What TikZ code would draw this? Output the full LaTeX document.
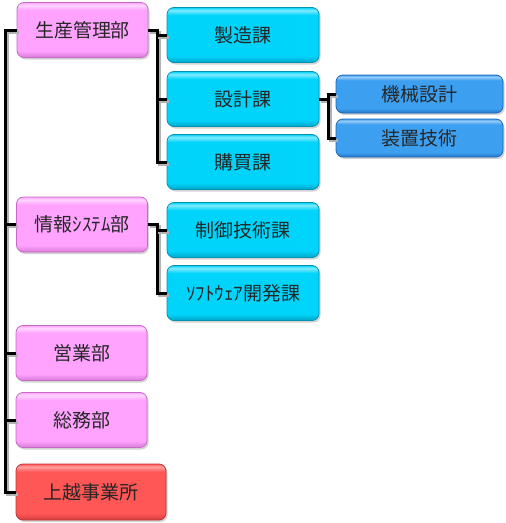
\documentclass[tikz,border=0pt]{standalone}
\usepackage{fontspec}
\newfontfamily\jp{Noto Sans CJK JP}
\usetikzlibrary{shadows}
\definecolor{pinkM}{HTML}{FFA3FF}
\definecolor{pinkL}{HTML}{FFD6FF}
\definecolor{pinkD}{HTML}{D97AD9}
\definecolor{pinkB}{HTML}{C46CC4}
\definecolor{cyanM}{HTML}{00D4FA}
\definecolor{cyanL}{HTML}{7FEAFF}
\definecolor{cyanD}{HTML}{00A6C8}
\definecolor{cyanB}{HTML}{0093B3}
\definecolor{blueM}{HTML}{3C9FF0}
\definecolor{blueL}{HTML}{9ACBFA}
\definecolor{blueD}{HTML}{2475C8}
\definecolor{blueB}{HTML}{1E68B8}
\definecolor{redM}{HTML}{FF5656}
\definecolor{redL}{HTML}{FFA0A0}
\definecolor{redD}{HTML}{D43C3C}
\definecolor{redB}{HTML}{C03434}
\pgfdeclareverticalshading{pinkshade}{100bp}{color(0bp)=(pinkD); color(25bp)=(pinkD); color(31bp)=(pinkM); color(68bp)=(pinkM); color(72.5bp)=(pinkL); color(75bp)=(pinkM); color(100bp)=(pinkM)}
\pgfdeclareverticalshading{cyanshade}{100bp}{color(0bp)=(cyanD); color(25bp)=(cyanD); color(31bp)=(cyanM); color(68bp)=(cyanM); color(72.5bp)=(cyanL); color(75bp)=(cyanM); color(100bp)=(cyanM)}
\pgfdeclareverticalshading{blueshade}{100bp}{color(0bp)=(blueD); color(25bp)=(blueD); color(31bp)=(blueM); color(68bp)=(blueM); color(72.5bp)=(blueL); color(75bp)=(blueM); color(100bp)=(blueM)}
\pgfdeclareverticalshading{redshade}{100bp}{color(0bp)=(redD); color(25bp)=(redD); color(31bp)=(redM); color(68bp)=(redM); color(72.5bp)=(redL); color(75bp)=(redM); color(100bp)=(redM)}
\tikzset{
  box/.style={rounded corners=7pt, line width=0.8pt, inner sep=0pt,
    font=\jp\fontsize{19pt}{19pt}\selectfont, text=black!85,
    drop shadow={shadow xshift=1.5pt, shadow yshift=-2pt, opacity=0.35}},
  bu/.style={box, draw=pinkB, shading=pinkshade, minimum width=131pt, minimum height=55pt},
  ka/.style={box, draw=cyanB, shading=cyanshade, minimum width=152pt, minimum height=55pt},
  kk/.style={box, draw=blueB, shading=blueshade, minimum width=167pt, minimum height=38pt},
  jg/.style={box, draw=redB, shading=redshade, minimum width=150pt, minimum height=56pt},
  conn/.style={line width=3pt, line join=miter, black,
    preaction={draw=black!30, line width=3pt, transform canvas={xshift=2pt, yshift=-2pt}}}
}
\begin{document}
\begin{tikzpicture}[x=1pt, y=-1pt]
\useasboundingbox (0,0) rectangle (506,523);
\coordinate (t) at (5,30);
\coordinate (a1) at (157,30);
\coordinate (c1) at (328,99);
\coordinate (d1) at (157,224.5);
\node[bu] (A) at (82.5,30) {生産管理部};
\node[ka] (B1) at (243,35) {製造課};
\node[ka] (B2) at (243,99) {設計課};
\node[ka] (B3) at (243,162) {購買課};
\node[kk] (C1) at (419.5,94) {機械設計};
\node[kk] (C2) at (419.5,138) {装置技術};
\node[bu] (D) at (82,224.5) {情報ｼｽﾃﾑ部};
\node[ka] (E1) at (243,230) {制御技術課};
\node[ka] (E2) at (243,293) {ｿﾌﾄｳｪｱ開発課};
\node[bu] (F) at (81.5,353) {営業部};
\node[bu] (G) at (81.5,420) {総務部};
\node[jg] (H) at (91,492) {上越事業所};
\draw[conn] (A.west) -- (t) |- (H.west);
\draw[conn] (D.west) -- (D.west -| t);
\draw[conn] (F.west) -- (F.west -| t);
\draw[conn] (G.west) -- (G.west -| t);
\draw[conn] (A.east) -- (a1) |- (B3.west);
\draw[conn] (B1.west) -| (a1);
\draw[conn] (B2.west) -- (B2.west -| a1);
\draw[conn] (B2.east) -- (c1);
\draw[conn] (C1.west) -| (c1);
\draw[conn] (C2.west) -| (c1);
\draw[conn] (D.east) -- (d1) |- (E2.west);
\draw[conn] (E1.west) -| (d1);
\end{tikzpicture}
\end{document}
